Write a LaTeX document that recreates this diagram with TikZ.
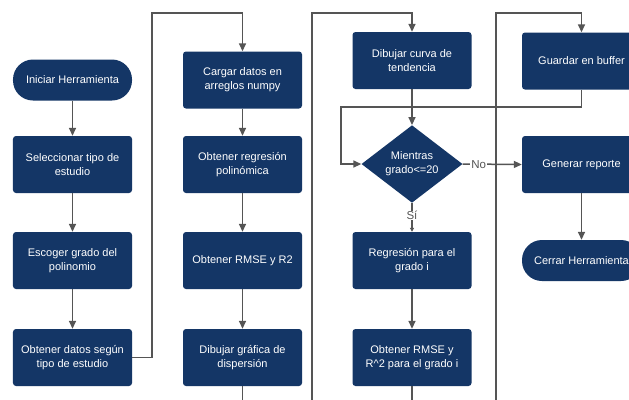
\documentclass[tikz,border=0pt]{standalone}
\usepackage{fontspec}
\setmainfont{Liberation Sans}
\usetikzlibrary{shapes.geometric,arrows.meta}
\definecolor{navy}{RGB}{20,54,102}
\definecolor{lineg}{RGB}{85,85,85}
\tikzset{
  box/.style={draw=none,fill=navy,rounded corners=3bp,minimum width=119bp,minimum height=57bp,inner sep=0pt,align=center,text=white,font=\fontsize{11bp}{14bp}\selectfont},
  term/.style={box,minimum height=41bp,rounded corners=20bp},
  dec/.style={diamond,fill=navy,minimum width=101bp,minimum height=76bp,inner sep=0pt,align=center,text=white,font=\fontsize{11bp}{14bp}\selectfont},
  conn/.style={draw=lineg,line width=1.5bp},
  arr/.style={conn,-{Triangle[length=8bp,width=7bp]}},
  lbl/.style={fill=white,inner sep=1pt,text=lineg,font=\fontsize{11.5bp}{13bp}\selectfont}
}
\begin{document}
\begin{tikzpicture}[x=1bp,y=-1bp]
\clip (0,0) rectangle (629,399);
\fill[white] (0,0) rectangle (629,399);
% column 1
\node[term] (ini) at (72.5,80) {Iniciar Herramienta};
\node[box] (sel) at (72.5,164.5) {Seleccionar tipo de\\estudio};
\node[box] (esc) at (72.5,260.5) {Escoger grado del\\polinomio};
\node[box] (obt) at (72.5,357.5) {Obtener datos según\\tipo de estudio};
% column 2
\node[box] (car) at (242.5,80) {Cargar datos en\\arreglos numpy};
\node[box] (reg) at (242.5,164.5) {Obtener regresión\\polinómica};
\node[box] (rmse) at (242.5,260.5) {Obtener RMSE y R2};
\node[box] (dib) at (242.5,357.5) {Dibujar gráfica de\\dispersión};
% column 3
\node[box] (cur) at (412,60.5) {Dibujar curva de\\tendencia};
\node[dec] (dia) at (412,164) {Mientras\\grado<=20};
\node[box] (regi) at (412,260.5) {Regresión para el\\grado i};
\node[box] (rm2) at (412,357.5) {Obtener RMSE y\\R\^{}2 para el grado i};
% column 4
\node[box] (gua) at (581.5,61) {Guardar en buffer};
\node[box] (gen) at (581.5,164.5) {Generar reporte};
\node[term] (cer) at (581.5,260.5) {Cerrar Herramienta};
\coordinate (b1) at (312,420);
\coordinate (b2) at (496,420);
% connectors
\draw[arr] (ini) -- (sel);
\draw[arr] (sel) -- (esc);
\draw[arr] (esc) -- (obt);
\draw[arr] (obt.east) -- (152,357.5) -- (152,13) -| (car.north);
\draw[arr] (car) -- (reg);
\draw[arr] (reg) -- (rmse);
\draw[arr] (rmse) -- (dib);
\draw[arr] (dib.south) |- (b1) -- (312,13) -| (cur.north);
\draw[arr] (cur) -- (dia);
\draw[arr] (gua.south) |- (341,107) |- (dia.west);
\draw[arr] (dia.east) -- node[lbl,pos=0.27]{No} (gen.west);
\draw[conn,-{Triangle[length=4bp,width=4bp]}] (dia.south) -- node[lbl,pos=0.43,inner sep=0.5pt]{Sí} (regi.north);
\draw[arr] (regi) -- (rm2);
\draw[arr] (rm2.south) |- (b2) -- (496,13) -| (gua.north);
\draw[arr] (gen) -- (cer);
\end{tikzpicture}
\end{document}
